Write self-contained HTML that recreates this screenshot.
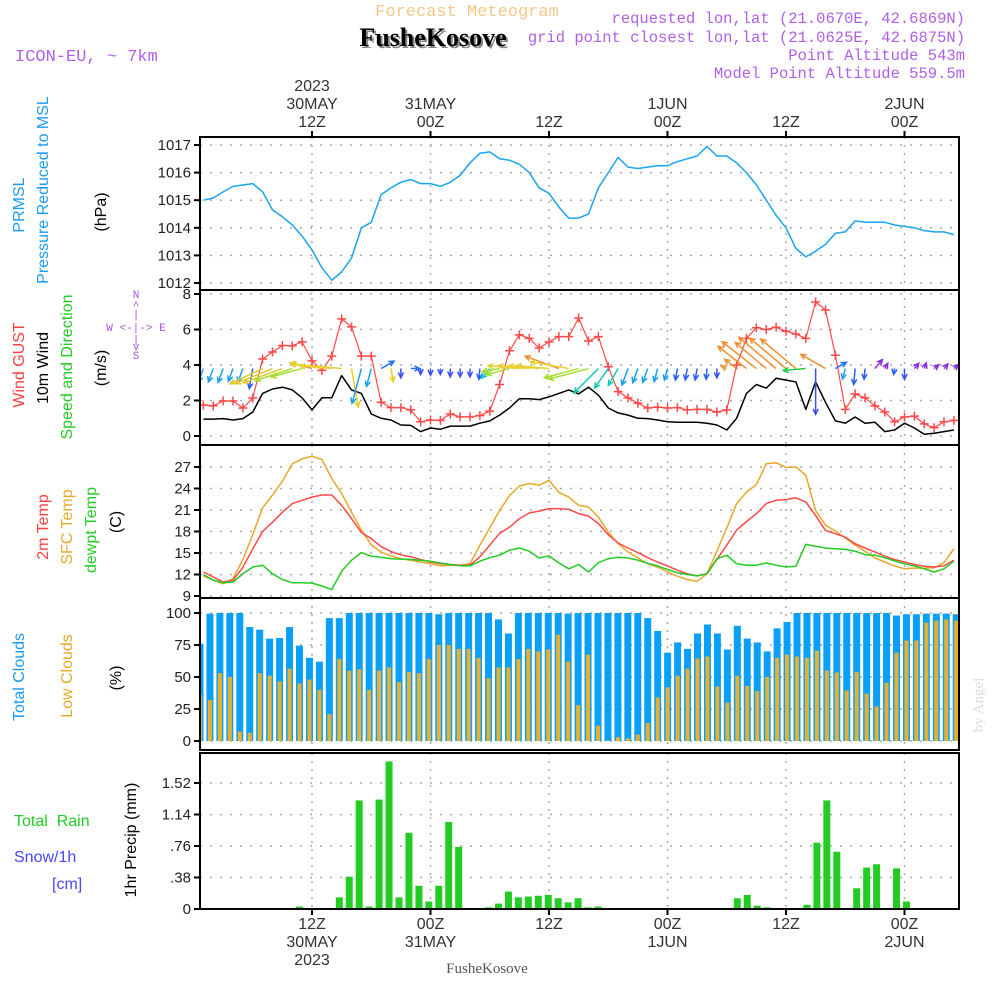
<!DOCTYPE html>
<html><head><meta charset="utf-8"><style>
html,body{margin:0;padding:0;background:#fff;}
svg{display:block;font-family:"Liberation Sans",sans-serif;}
</style></head><body>
<svg id="chart" width="1000" height="1000" viewBox="0 0 1000 1000" xmlns="http://www.w3.org/2000/svg">
<defs><clipPath id="plotclip"><rect x="200" y="137" width="759" height="772"/></clipPath></defs>
<rect width="1000" height="1000" fill="#fff"/>
<g>
<text x="467" y="16" text-anchor="middle" font-family="Liberation Mono,monospace" font-size="17" fill="#f5c88a">Forecast Meteogram</text>
<text x="15" y="61" font-family="Liberation Mono,monospace" font-size="17" fill="#b060e8">ICON-EU, ~ 7km</text>
<g font-family="Liberation Mono,monospace" font-size="15.5" fill="#b060e8" text-anchor="end">
<text x="965" y="23">requested lon,lat (21.0670E, 42.6869N)</text>
<text x="965" y="42">grid point closest lon,lat (21.0625E, 42.6875N)</text>
<text x="965" y="60">Point Altitude 543m</text>
<text x="965" y="78">Model Point Altitude 559.5m</text>
</g>
<text x="435" y="48" text-anchor="middle" font-family="Liberation Serif,serif" font-weight="bold" font-size="26" fill="#888">FusheKosove</text>
<text x="433" y="46" text-anchor="middle" font-family="Liberation Serif,serif" font-weight="bold" font-size="26" fill="#000">FusheKosove</text>
</g>
<g id="grid"></g>
<g id="marks" clip-path="url(#plotclip)"></g>
<g id="frames"></g>
<g id="labels" font-size="15" fill="#222"></g>
<g font-size="16">
<text transform="translate(24,205) rotate(-90)" text-anchor="middle" fill="#1a9cf0">PRMSL</text>
<text transform="translate(48,190) rotate(-90)" text-anchor="middle" fill="#1a9cf0">Pressure Reduced to MSL</text>
<text transform="translate(106,212) rotate(-90)" text-anchor="middle" fill="#000">(hPa)</text>
<text transform="translate(24,365) rotate(-90)" text-anchor="middle" fill="#ff4040">Wind GUST</text>
<text transform="translate(48,368) rotate(-90)" text-anchor="middle" fill="#000">10m Wind</text>
<text transform="translate(72,367) rotate(-90)" text-anchor="middle" fill="#22cc22">Speed and Direction</text>
<text transform="translate(106,368) rotate(-90)" text-anchor="middle" fill="#000">(m/s)</text>
<text transform="translate(48,527) rotate(-90)" text-anchor="middle" fill="#ff4040">2m Temp</text>
<text transform="translate(72,527) rotate(-90)" text-anchor="middle" fill="#e8a828">SFC Temp</text>
<text transform="translate(96,530) rotate(-90)" text-anchor="middle" fill="#22cc22">dewpt Temp</text>
<text transform="translate(121,522) rotate(-90)" text-anchor="middle" fill="#000">(C)</text>
<text transform="translate(24,677) rotate(-90)" text-anchor="middle" fill="#1a9cf0">Total Clouds</text>
<text transform="translate(72,676) rotate(-90)" text-anchor="middle" fill="#e8a828">Low Clouds</text>
<text transform="translate(121,678) rotate(-90)" text-anchor="middle" fill="#000">(%)</text>
<text x="14" y="826" fill="#22cc22" xml:space="preserve">Total  Rain</text>
<text x="14" y="862" fill="#4848ff">Snow/1h</text>
<text x="52" y="889" fill="#4848ff">[cm]</text>
<text transform="translate(136,840) rotate(-90)" text-anchor="middle" fill="#000">1hr Precip (mm)</text>
<g font-family="Liberation Mono,monospace" font-size="11" fill="#a855e8" text-anchor="middle">
<text x="136" y="298">N</text><text x="136" y="309">^</text><text x="136" y="318">|</text>
<text x="136" y="331" xml:space="preserve">W &lt;-|-&gt; E</text>
<text x="136" y="343">|</text><text x="136" y="350">v</text><text x="136" y="359">S</text>
</g>
<text transform="translate(983,705) rotate(-90)" text-anchor="middle" font-family="Liberation Serif,serif" font-size="15" fill="#ddd">by Angel</text>
<text x="487" y="973" text-anchor="middle" font-family="Liberation Serif,serif" font-size="15" fill="#555">FusheKosove</text>
</g>
</svg>
<script>
const hours = [];
for (let h = 1; h <= 77; h++) hours.push(h);
const pressure = [1015.0,1015.08,1015.3,1015.5,1015.55,1015.6,1015.3,1014.65,1014.4,1014.1,
1013.7,1013.2,1012.55,1012.1,1012.4,1012.9,1014.0,1014.2,1015.2,1015.45,
1015.65,1015.75,1015.6,1015.6,1015.5,1015.65,1015.9,1016.35,1016.7,1016.75,
1016.5,1016.45,1016.3,1016.0,1015.45,1015.25,1014.75,1014.35,1014.35,1014.5,
1015.45,1016.0,1016.55,1016.2,1016.15,1016.2,1016.25,1016.25,1016.4,1016.5,
1016.6,1016.95,1016.6,1016.6,1016.35,1016.0,1015.55,1015.0,1014.45,1014.0,
1013.25,1012.95,1013.15,1013.4,1013.8,1013.85,1014.25,1014.2,1014.2,1014.2,
1014.1,1014.05,1014.0,1013.9,1013.85,1013.85,1013.75];
const gust = [1.75,1.7,1.97,1.97,1.58,2.14,4.34,4.73,5.1,5.08,
5.3,4.23,3.7,4.5,6.6,6.15,4.5,4.5,1.9,1.6,
1.6,1.47,0.8,0.9,0.88,1.24,1.08,1.08,1.15,1.4,
2.9,4.8,5.7,5.5,4.96,5.3,5.6,5.6,6.65,5.35,
5.6,3.9,2.5,2.15,1.85,1.58,1.63,1.58,1.6,1.47,
1.5,1.5,1.35,1.47,4.0,5.5,6.1,6.0,6.13,5.9,
5.75,5.5,7.55,7.1,4.55,1.5,2.37,2.15,1.7,1.35,
0.8,1.07,1.12,0.68,0.47,0.8,0.88];
const wind10 = [0.95,0.95,0.98,0.9,0.98,1.35,2.4,2.65,2.75,2.6,
2.15,1.47,2.15,2.15,3.4,2.6,2.4,1.24,1.0,0.9,
0.62,0.6,0.25,0.45,0.38,0.56,0.56,0.56,0.72,0.85,
1.18,1.58,2.1,2.1,2.05,2.2,2.4,2.6,2.37,2.75,
2.3,1.58,1.3,1.18,1.0,0.98,0.9,0.8,0.78,0.77,
0.77,0.72,0.62,0.34,1.0,2.4,2.9,2.7,3.25,3.15,
3.05,1.5,3.05,1.9,0.85,0.72,1.07,0.72,0.78,0.25,
0.34,0.72,0.45,0.1,0.15,0.25,0.34];
const windDir = [20,20,20,20,20,10,65,68,70,72,
75,105,100,95,95,350,15,15,240,350,
0,270,0,0,0,0,0,0,5,40,
80,75,95,95,95,95,110,100,75,75,
45,35,30,20,20,20,15,15,10,10,
10,5,0,115,128,128,128,130,130,130,
130,85,0,120,240,15,5,5,220,210,
10,0,220,200,230,220,230];
const t2m = [12.35,11.65,10.95,11.2,13.0,15.6,18.0,19.3,20.7,21.9,
22.35,22.8,23.1,23.1,21.65,19.8,17.85,17.0,15.9,15.2,
14.75,14.45,14.1,13.75,13.5,13.4,13.3,13.3,14.45,16.1,
17.75,18.6,19.8,20.6,20.85,21.2,21.2,21.1,20.5,20.15,
19.1,17.55,16.4,15.7,15.05,14.35,13.75,13.2,12.6,12.1,
11.8,12.1,14.1,16.1,18.2,19.4,20.5,21.9,22.35,22.45,
22.7,22.1,20.25,18.15,17.7,17.2,16.3,15.7,15.15,14.55,
14.1,13.75,13.4,13.15,13.05,13.2,14.0];
const tsfc = [11.8,11.2,10.7,11.4,14.1,17.6,21.3,23.1,25.0,27.45,
28.15,28.5,28.05,25.4,23.3,20.7,18.2,16.1,15.15,14.6,
14.2,14.0,13.75,13.5,13.2,13.3,13.3,13.5,16.1,18.5,
20.95,23.0,24.35,24.7,24.45,25.15,23.45,22.8,21.65,21.4,
20.0,17.9,16.3,15.15,14.3,13.5,13.05,12.35,11.75,11.3,
11.05,12.1,15.3,18.5,21.9,23.5,24.55,27.45,27.6,26.95,
27.0,25.85,20.95,18.9,18.05,17.1,16.1,15.25,14.3,13.75,
13.2,12.8,12.9,12.9,12.95,13.65,15.6];
const tdew = [12.0,11.2,10.85,10.95,12.1,13.05,13.3,12.1,11.3,10.85,
10.85,10.8,10.4,9.9,12.45,14.0,15.05,14.55,14.4,14.2,
14.15,14.1,14.0,13.85,13.6,13.4,13.2,13.2,13.85,14.35,
14.7,15.4,15.7,15.25,14.3,14.6,13.6,12.8,13.4,12.35,
13.65,14.2,14.4,14.3,14.0,13.55,13.2,12.7,12.25,12.0,
11.8,12.1,14.2,14.7,13.5,13.3,13.3,13.6,13.3,13.05,
13.15,16.2,15.95,15.7,15.6,15.5,15.25,14.75,14.7,14.35,
13.9,13.5,13.2,12.8,12.35,12.8,13.85];
const totalClouds = [76,99.5,100,100,100,89,87,80,80.5,89,
74.5,65,62,96,96,100,100,100,100,100,
100,100,100,100,99,100,100,100,100,100,
95,84,100,100,100,100,100,99.5,100,100,
100,100,100,100,100,96,86,69,77,72,
84,91,84,71.5,90,80,77,70,88,93,
100,100,100,100,100,100,100,100,100,100,
98,99,99,99.5,99.5,99.5,99];
const lowClouds = [36,32,53,50,7.5,6.5,53,51,46.5,56.5,
45,48,40,21,64,55,56,40,55,57.5,
46,54,53,64,75,75,72,72,65,49,
57.5,57.5,64,72,70,71.5,83,62,28,67.5,
12,0.3,3,2,5,14,34,42,51,56.5,
64.5,66,42.5,30,51,43,39,50,65,67.5,
66,65,70.5,55,53.5,39.5,54,37,27,45.5,
69,78.5,78.5,92.5,94,95,94];
const precip = [0,0,0,0,0,0,0,0,0,0,
0.03,0.01,0,0,0.14,0.39,1.31,0.03,1.32,1.78,
0.14,0.92,0.28,0.09,0.28,1.05,0.75,0,0,0.02,
0.065,0.21,0.14,0.15,0.16,0.17,0.13,0.08,0.13,0.02,
0.03,0,0,0,0,0,0,0,0,0,
0,0,0,0,0.13,0.17,0.04,0.02,0.005,0,
0,0.05,0.8,1.31,0.69,0,0.25,0.5,0.54,0,
0.49,0.09,0,0,0,0,0];
const pTicks = [1012,1013,1014,1015,1016,1017];
const wTicks = [0,2,4,6,8];
const tTicks = [9,12,15,18,21,24,27];
const cTicks = [0,25,50,75,100];
const rTicks = [0,0.38,0.76,1.14,1.52];
const timeTicks = [12,24,36,48,60,72];
const timeTop = [["2023","30MAY","12Z"],["","31MAY","00Z"],["","","12Z"],["","1JUN","00Z"],["","","12Z"],["","2JUN","00Z"]];
const timeBottom = [["12Z","30MAY","2023"],["00Z","31MAY",""],["12Z","",""],["00Z","1JUN",""],["12Z","",""],["00Z","2JUN",""]];

const NS = "http://www.w3.org/2000/svg";
const L = 200, R = 959;
function X(h){ return 312 + (h-12)*9.875; }
function barX(i){ return 200 + i*9.95; }
const yP = v => 145 + (1017-v)*27.6;
const yW = v => 436 - v*17.75;
const yT = v => 467 + (27-v)*7.167;
const yC = v => 741 - v*1.28;
const yR = v => 909 - v*82.9;
const panels = [{t:137,b:290},{t:290,b:445},{t:445,b:598},{t:598,b:750},{t:753,b:909}];

function el(tag, attrs, parent){
  const e = document.createElementNS(NS, tag);
  for (const k in attrs) e.setAttribute(k, attrs[k]);
  parent.appendChild(e);
  return e;
}
const grid = document.getElementById('grid');
const marks = document.getElementById('marks');
const frames = document.getElementById('frames');
const labels = document.getElementById('labels');

panels.forEach(p => {
  timeTicks.forEach(h => {
    const g = el('line',{x1:X(h),x2:X(h),y1:p.t,y2:p.b,stroke:'#aaa','stroke-width':1.5,'stroke-dasharray':'2 6'},grid);
    
    
  });
});
function hgrid(ticks, yf, fmt){
  ticks.forEach(v => {
    const y = yf(v);
    const g = el('line',{x1:L,x2:R,y1:y,y2:y,stroke:'#aaa','stroke-width':1.5,'stroke-dasharray':'2 8'},grid);
    
    
    el('line',{x1:L-6,x2:L,y1:y,y2:y,stroke:'#000','stroke-width':2},frames);
    const t = el('text',{x:L-9,y:y+5,'text-anchor':'end'},labels);
    t.textContent = fmt(v);
    
    
  });
}
hgrid(pTicks,yP,v=>String(v));
hgrid(wTicks,yW,v=>String(v));
hgrid(tTicks,yT,v=>String(v));
hgrid(cTicks,yC,v=>String(v));
hgrid(rTicks,yR,v=>v===0?'0':v.toFixed(2).replace(/^0/,''));

totalClouds.forEach((v,i) => {
  const x = barX(i);
  const r = el('rect',{x:x-3.5,y:yC(v),width:7,height:yC(0)-yC(v),fill:'#0aa0f8'},marks);
  
  
});
lowClouds.forEach((v,i) => {
  const x = barX(i);
  const r = el('rect',{x:x-2,y:yC(v),width:4,height:yC(0)-yC(v),fill:'#e8b030'},marks);
  
  
});
precip.forEach((v,i) => {
  if (v <= 0) return;
  const x = barX(i);
  const r = el('rect',{x:x-3.5,y:yR(v),width:7,height:Math.max(1,yR(0)-yR(v)),fill:'#22cc22'},marks);
  
  
});
function line(arr, yf, color, name, w){
  const pts = arr.map((v,i)=>X(hours[i]).toFixed(1)+','+yf(v).toFixed(1)).join(' ');
  const p = el('polyline',{points:pts,fill:'none',stroke:color,'stroke-width':w||1.5,'stroke-linejoin':'round'},marks);
  
  
}
line(pressure,yP,'#1aa4f0','pressure-line');
line(wind10,yW,'#000','wind10-line');
line(gust,yW,'#ff4848','wind-gust-line',1.2);
gust.forEach((v,i)=>{
  const x = X(hours[i]), y = yW(v);
  const c = el('path',{d:`M${x-4.5},${y}H${x+4.5}M${x},${y-4.5}V${y+4.5}`,stroke:'#ff4848','stroke-width':1.5},marks);
  
  
});
function dirColor(d){
  if (d>=180 && d<=235) return '#8a2be2';
  if (d>235 && d<300) return '#2a70ff';
  if (d>=340 || d<=2) return (d>=340?'#e8d020':'#3a50f0');
  if (d<=12) return '#2a60f0';
  if (d<=25) return '#1aa0f0';
  if (d<=50) return '#18c8b8';
  if (d<=70) return '#e0c830';
  if (d<=80) return '#a8dc30';
  if (d<=90) return '#22cc44';
  if (d<=100) return '#e8d030';
  return '#f09030';
}
windDir.forEach((d,i)=>{
  const x0 = X(hours[i]), y0 = yW(3.8);
  const len = Math.max(6, wind10[i]*15);
  const rad = d*Math.PI/180;
  const dx = -Math.sin(rad), dy = Math.cos(rad);
  const x1 = x0+dx*len, y1 = y0+dy*len;
  const a = Math.atan2(dy,dx);
  const h1x = x1-6*Math.cos(a-0.45), h1y = y1-6*Math.sin(a-0.45);
  const h2x = x1-6*Math.cos(a+0.45), h2y = y1-6*Math.sin(a+0.45);
  const col = dirColor(d);
  const p = el('path',{d:`M${x0},${y0}L${x1},${y1}M${h1x},${h1y}L${x1},${y1}L${h2x},${h2y}`,stroke:col,'stroke-width':1.5,fill:'none'},marks);
  
  
});
line(tsfc,yT,'#e8a828','sfc-temp-line');
line(t2m,yT,'#ff4848','t2m-line');
line(tdew,yT,'#22cc22','dewpoint-line');

panels.forEach(p=>{
  const f = el('rect',{x:L,y:p.t,width:R-L,height:p.b-p.t,fill:'none',stroke:'#000','stroke-width':2},frames);
  
  
});
timeTicks.forEach((h,k)=>{
  el('line',{x1:X(h),x2:X(h),y1:131,y2:137,stroke:'#000','stroke-width':2},frames);
  el('line',{x1:X(h),x2:X(h),y1:909,y2:915,stroke:'#000','stroke-width':2},frames);
  timeTop[k].forEach((s,j)=>{
    if(!s) return;
    const t = el('text',{x:X(h),y:91+j*18,'text-anchor':'middle','font-size':16,fill:'#333'},labels);
    t.textContent = s;
    
    
  });
  timeBottom[k].forEach((s,j)=>{
    if(!s) return;
    const t = el('text',{x:X(h),y:929+j*18,'text-anchor':'middle','font-size':16,fill:'#333'},labels);
    t.textContent = s;
    
    
  });
});
</script>
</body></html>
